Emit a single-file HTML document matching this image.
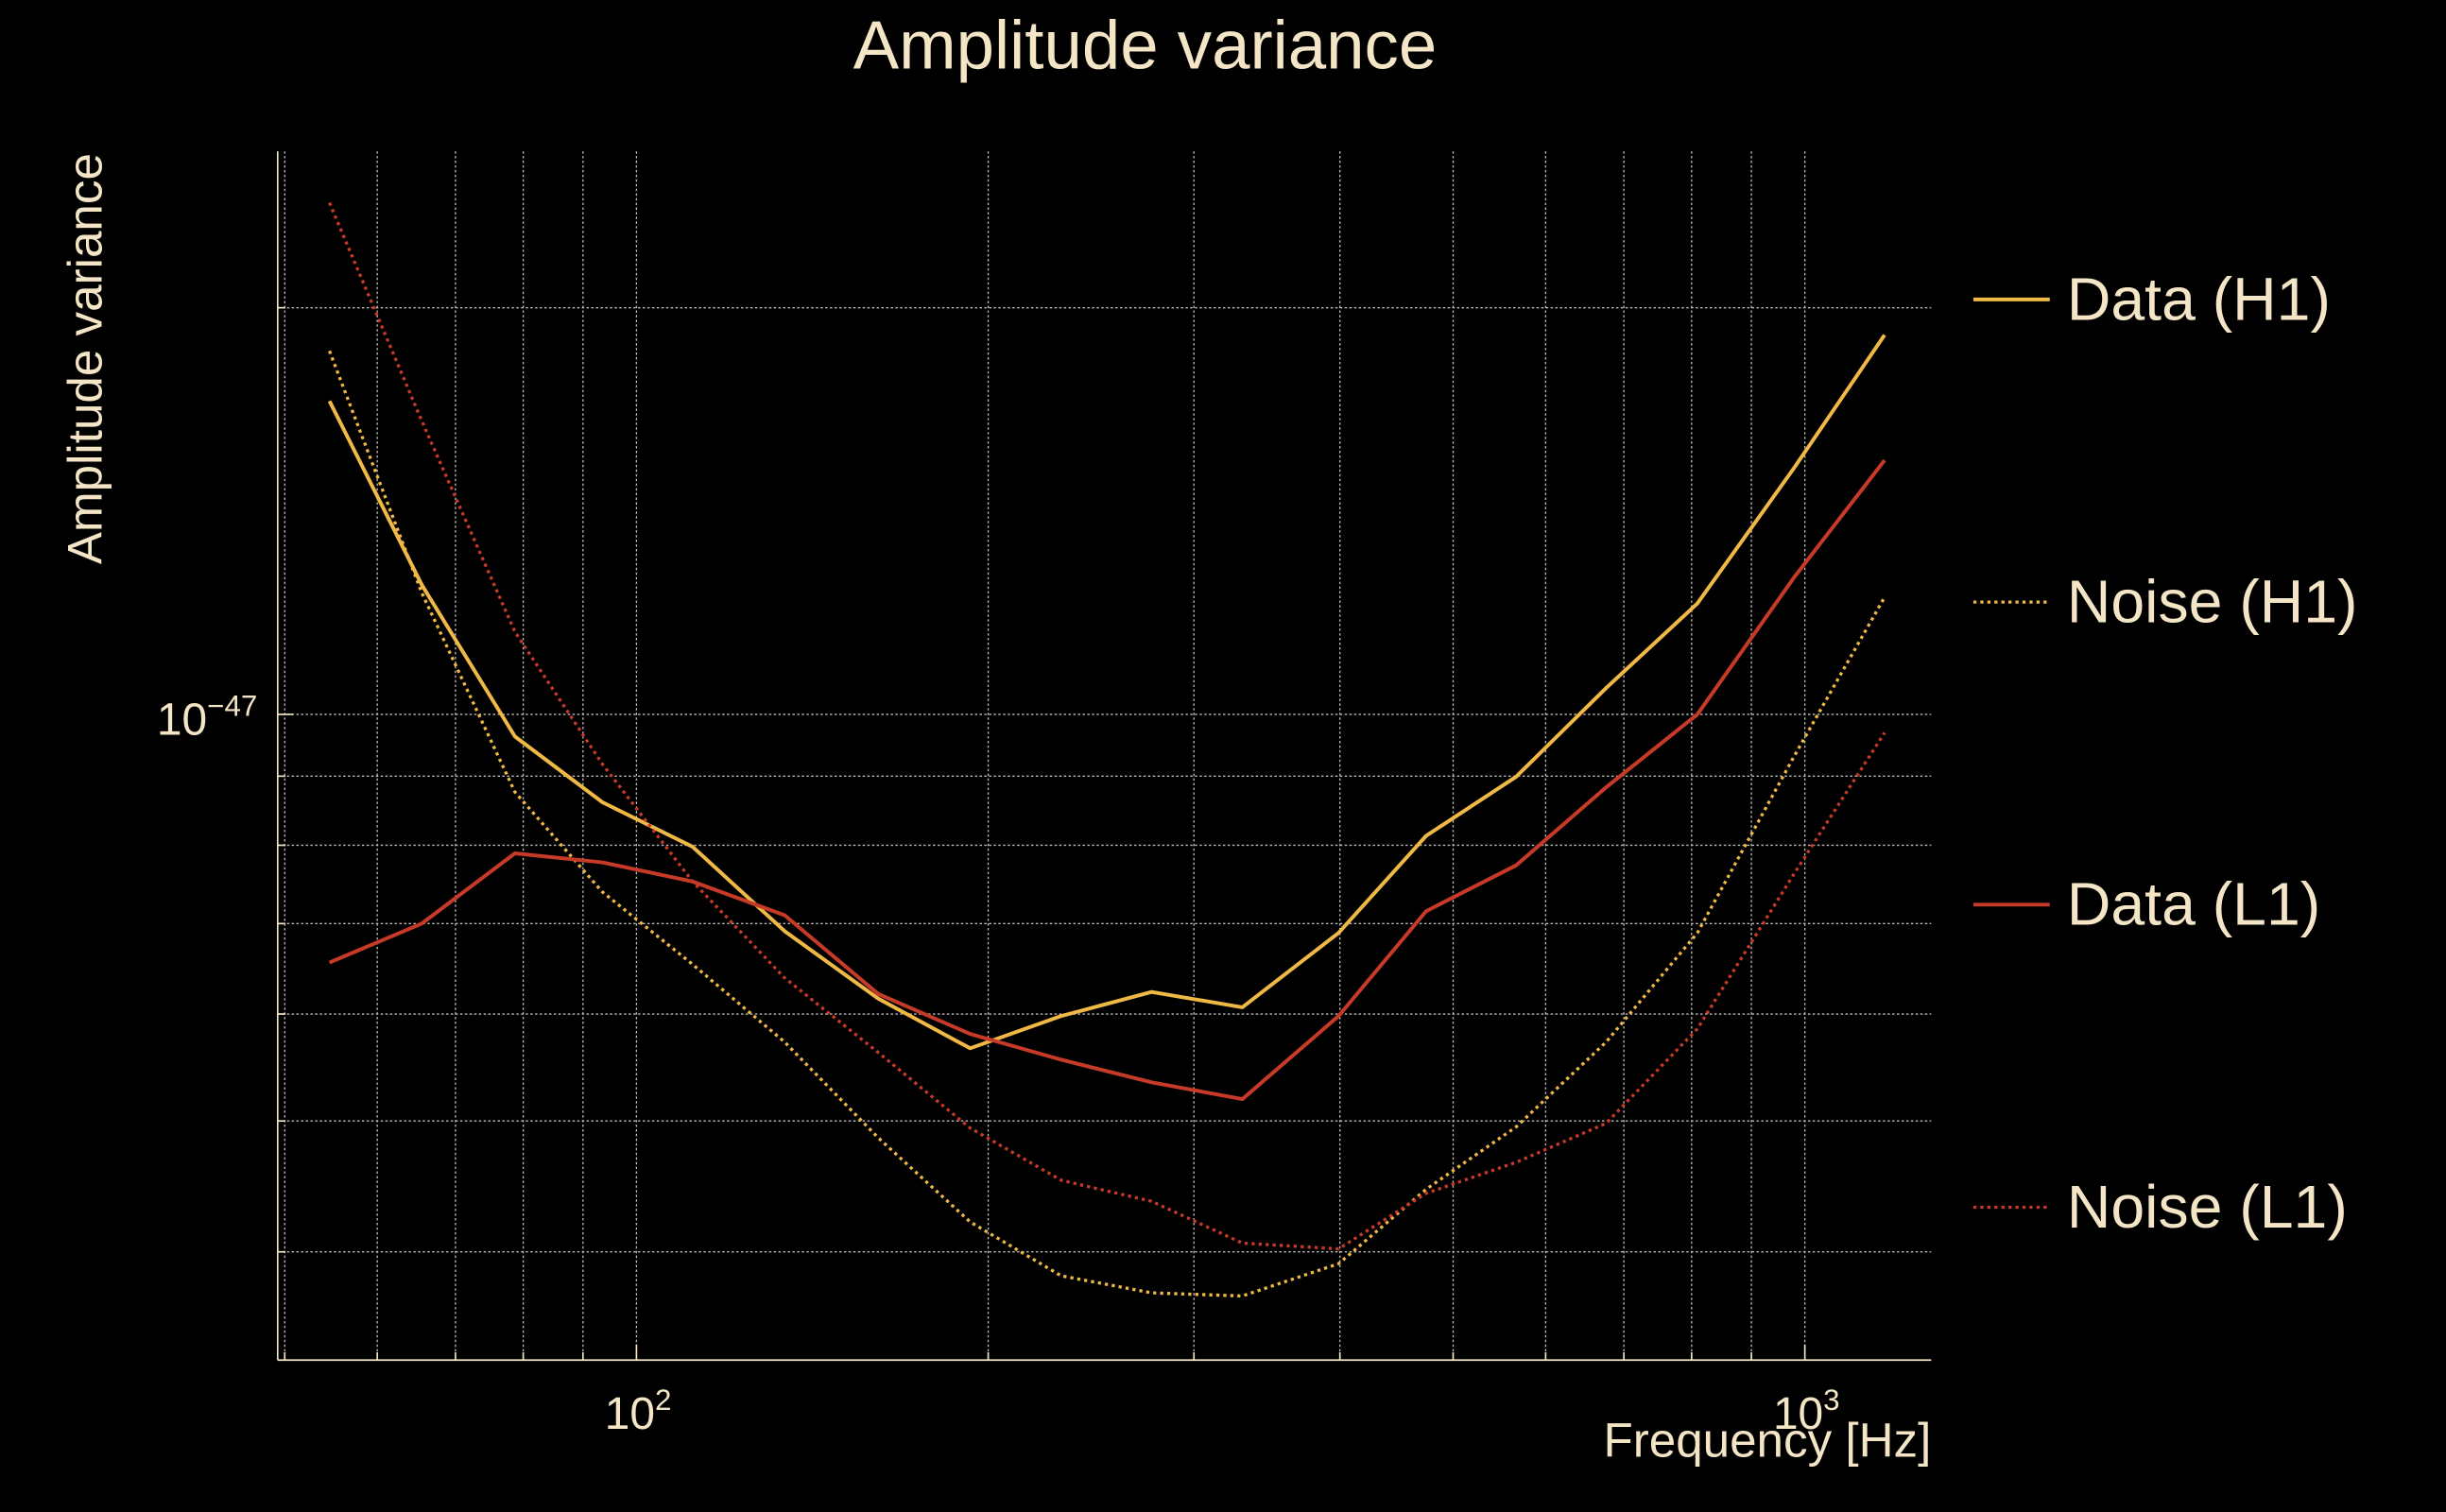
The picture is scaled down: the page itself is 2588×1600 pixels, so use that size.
<!DOCTYPE html>
<html><head><meta charset="utf-8"><style>
html,body{margin:0;padding:0;background:#000;}
svg{display:block;}
text{font-family:"Liberation Sans",sans-serif;fill:#f3e5c6;}
</style></head><body>
<svg id="chart" width="2588" height="1600" viewBox="0 0 1568 969.4" xmlns="http://www.w3.org/2000/svg">
<rect width="1568" height="969.4" fill="#000"/>
<text x="734" y="44" font-size="44" text-anchor="middle">Amplitude variance</text>
<text transform="translate(65,230) rotate(-90)" font-size="31" text-anchor="middle">Amplitude variance</text>
<text x="1238" y="934" font-size="31" text-anchor="end">Frequency [Hz]</text>
<g id="grid"></g>
<g id="axes"></g>
<g id="series"></g>
<g id="legend"></g>
</svg>
<script>
const freqs=[54.6,65.5,78.7,93.5,111.7,133.9,161,193,231,276,330,399,474,566,676,809,979,1170];
const dataH1=[17.06,12.47,9.63,8.61,7.98,6.91,6.16,5.66,5.98,6.23,6.07,6.89,8.13,8.99,10.46,12.08,15.22,19.09];
const noiseH1=[18.58,12.30,8.76,7.39,6.53,5.72,4.86,4.21,3.84,3.73,3.71,3.92,4.45,4.95,5.72,6.89,9.31,12.21];
const dataL1=[6.55,7.00,7.89,7.77,7.52,7.10,6.21,5.80,5.55,5.34,5.19,5.98,7.15,7.73,8.83,10.0,12.63,15.42];
const noiseL1=[23.92,16.49,11.51,9.19,7.52,6.38,5.62,4.94,4.52,4.36,4.06,4.02,4.42,4.66,4.98,5.85,7.62,9.69];
const seriesNames=["Data (H1)","Noise (H1)","Data (L1)","Noise (L1)"];
const xGridVals=[50,60,70,80,90,100,200,300,400,500,600,700,800,900,1000];
const yGridVals=[4,5,6,7,8,9,10,20]; // units of 1e-48

const L=178,R=1238,T=97,B=872;
function xs(f){return 408+749*(Math.log10(f)-2);}
function ys(v){return 458-866*(Math.log10(v)-1);}
const NS="http://www.w3.org/2000/svg";
function mk(tag,attrs,parent){const e=document.createElementNS(NS,tag);for(const k in attrs)e.setAttribute(k,attrs[k]);parent.appendChild(e);return e;}
const grid=document.getElementById('grid'),axes=document.getElementById('axes'),ser=document.getElementById('series'),leg=document.getElementById('legend');
xGridVals.forEach(f=>{const x=xs(f);
 const l=mk('line',{x1:x,x2:x,y1:T,y2:B,stroke:'#bbb','stroke-width':0.8,'stroke-dasharray':'1.5,1.5'},grid);
 
 
 const t=mk('line',{x1:x,x2:x,y1:B,y2:B-(f==100||f==1000?10:5),stroke:'#f3e5c6','stroke-width':1},axes);
 
 
});
yGridVals.forEach(v=>{const y=ys(v);
 const l=mk('line',{x1:L,x2:R,y1:y,y2:y,stroke:'#bbb','stroke-width':0.8,'stroke-dasharray':'1.5,1.5'},grid);
 
 
 const t=mk('line',{x1:L,x2:L+(v==10?10:5),y1:y,y2:y,stroke:'#f3e5c6','stroke-width':1},axes);
 
 
});
let a=mk('line',{x1:L,x2:L,y1:T,y2:B,stroke:'#f3e5c6','stroke-width':1},axes);


a=mk('line',{x1:L,x2:R,y1:B,y2:B,stroke:'#f3e5c6','stroke-width':1},axes);


function tickLabel(x,y,exp,anchor,name){const t=mk('text',{x:x,y:y,'font-size':29,'text-anchor':anchor},axes);
 
 
 t.innerHTML='10<tspan dy="-12" font-size="19">'+exp+'</tspan>';}
tickLabel(xs(100)+1,916,'2','middle','x-tick-label-100');
tickLabel(xs(1000)+1,916,'3','middle','x-tick-label-1000');
tickLabel(165,ys(10)+13,'−47','end','y-tick-label');
const colH='#f0b845',colL='#c83a28';
const defs=[[dataH1,colH,null,'data-h1-line'],[noiseH1,colH,'2,2.5','noise-h1-line'],[dataL1,colL,null,'data-l1-line'],[noiseL1,colL,'2,2.5','noise-l1-line']];
defs.forEach((d,i)=>{
 const pts=d[0].map((v,j)=>xs(freqs[j]).toFixed(1)+','+ys(v).toFixed(1)).join(' ');
 const p=mk('polyline',{points:pts,fill:'none',stroke:d[1],'stroke-width':d[2]?2:2.4,'stroke-linejoin':'round'},ser);
 if(d[2])p.setAttribute('stroke-dasharray',d[2]);
 
 
 const ly=192+i*194;
 const g=mk('g',{},leg);
 
 
 const ln=mk('line',{x1:1265,x2:1314,y1:ly,y2:ly,stroke:d[1],'stroke-width':d[2]?2:2.4},g);
 if(d[2])ln.setAttribute('stroke-dasharray',d[2]);
 const t=mk('text',{x:1325,y:ly+13,'font-size':39},g);
 t.textContent=seriesNames[i];
});
</script>
</body></html>
